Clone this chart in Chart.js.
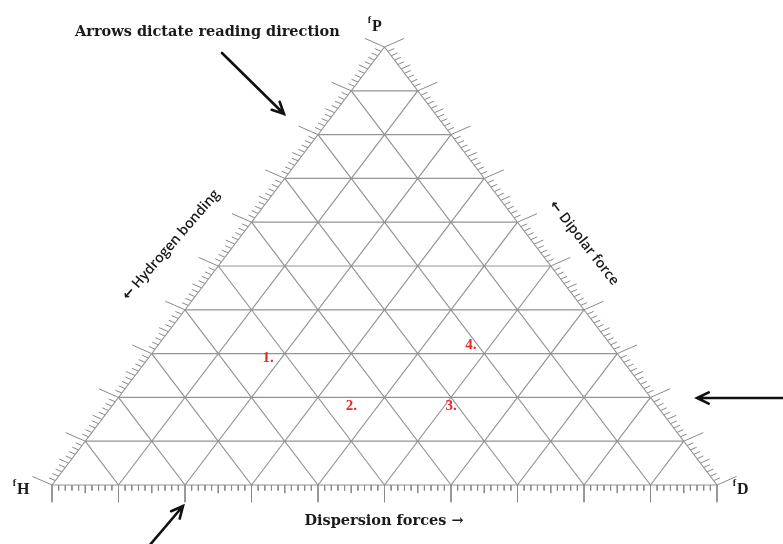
<!DOCTYPE html>
<html>
<head>
<meta charset="utf-8">
<script src="https://cdn.jsdelivr.net/npm/chart.js@4.4.1/dist/chart.umd.min.js"></script>
<style>
  html, body { margin: 0; padding: 0; background: #fff; }
  #teas { display: block; }
</style>
</head>
<body>
<canvas id="teas" width="783" height="544"></canvas>
<script>
// Solvent points (fractional parameters, %)
const solventLabels = ['1.', '2.', '3.', '4.'];
const fD = [18, 36, 51, 47];
const fP = [29, 18, 18, 32];
const fH = [53, 46, 31, 21];

// Grid / scale divisions (%)
const gridLevels = [0, 10, 20, 30, 40, 50, 60, 70, 80, 90];
const tickSteps = Array.from({ length: 101 }, (_, i) => i);

const GRID_COLOR = '#939393';
const TEXT_COLOR = '#1a1a1a';

// ternary -> plot coords (x along base, y = fp)
function toXY(d, p) {
  return { x: d + p / 2, y: p };
}

const BREAK = { x: null, y: null };

function buildGrid() {
  const pts = [];
  gridLevels.forEach(t => {
    // constant fp
    pts.push({ x: t / 2, y: t }, { x: 100 - t / 2, y: t }, BREAK);
    // constant fd
    pts.push(toXY(t, 0), toXY(t, 100 - t), BREAK);
    // constant fh
    pts.push(toXY(100 - t, 0), toXY(0, 100 - t), BREAK);
  });
  return pts;
}

function tickLen(i) {
  if (i % 10 === 0) return 3.4;
  if (i % 5 === 0) return 1.6;
  return 1.1;
}

function buildTicks() {
  const pts = [];
  tickSteps.forEach(i => {
    const L = tickLen(i);
    // base (fp = 0)
    pts.push({ x: i, y: 0 }, { x: i, y: -1.155 * L }, BREAK);
    // left edge (fd = 0)
    const a = toXY(0, i);
    pts.push(a, { x: a.x - 0.866 * L, y: a.y + 0.577 * L }, BREAK);
    // right edge (fh = 0)
    const b = toXY(100 - i, i);
    pts.push(b, { x: b.x + 0.866 * L, y: b.y + 0.577 * L }, BREAK);
  });
  return pts;
}

const solventPoints = solventLabels.map((_, i) => toXY(fD[i], fP[i]));

function arrow(ctx, x1, y1, x2, y2) {
  const ang = Math.atan2(y2 - y1, x2 - x1);
  const h = 13;
  ctx.beginPath();
  ctx.moveTo(x1, y1);
  ctx.lineTo(x2, y2);
  ctx.moveTo(x2 - h * Math.cos(ang - 0.45), y2 - h * Math.sin(ang - 0.45));
  ctx.lineTo(x2, y2);
  ctx.lineTo(x2 - h * Math.cos(ang + 0.45), y2 - h * Math.sin(ang + 0.45));
  ctx.stroke();
}

function vertexLabel(ctx, letter, x, y) {
  ctx.fillStyle = TEXT_COLOR;
  ctx.font = 'bold 10px "Liberation Serif", serif';
  ctx.textAlign = 'right';
  ctx.textBaseline = 'alphabetic';
  ctx.fillText('f', x - 1, y - 8);
  ctx.font = 'bold 16px "Liberation Serif", serif';
  ctx.textAlign = 'left';
  ctx.fillText(letter, x, y);
}

const annotations = {
  id: 'annotations',
  afterDatasetsDraw(chart) {
    const ctx = chart.ctx;
    ctx.save();

    // solvent labels at their points
    const meta = chart.getDatasetMeta(2);
    ctx.fillStyle = '#e8262a';
    ctx.font = 'bold 15px "Liberation Serif", serif';
    ctx.textAlign = 'center';
    ctx.textBaseline = 'middle';
    meta.data.forEach((el, i) => {
      ctx.fillText(solventLabels[i], el.x, el.y);
    });

    ctx.fillStyle = TEXT_COLOR;
    ctx.font = 'bold 14.5px "DejaVu Serif", serif';
    ctx.textAlign = 'left';
    ctx.textBaseline = 'middle';
    ctx.fillText('Arrows dictate reading direction', 75, 32);

    ctx.font = 'bold 14.5px "DejaVu Serif", serif';
    ctx.textAlign = 'center';
    ctx.fillText('Dispersion forces \u2192', 384, 521);

    ctx.font = '600 14px "Open Sans", "DejaVu Sans", sans-serif';
    ctx.save();
    ctx.translate(171, 245);
    ctx.rotate(-49 * Math.PI / 180);
    ctx.fillText('\u2190 Hydrogen bonding', 0, 0);
    ctx.restore();

    ctx.save();
    ctx.translate(584, 243);
    ctx.rotate(52 * Math.PI / 180);
    ctx.fillText('\u2190 Dipolar force', 0, 0);
    ctx.restore();

    vertexLabel(ctx, 'P', 372, 31);
    vertexLabel(ctx, 'H', 17, 494);
    vertexLabel(ctx, 'D', 737, 494);

    ctx.strokeStyle = '#111';
    ctx.lineWidth = 2.6;
    ctx.lineCap = 'round';
    ctx.lineJoin = 'miter';
    arrow(ctx, 222, 53, 284, 114);
    arrow(ctx, 790, 398, 697, 398);
    arrow(ctx, 149, 546, 183, 506);

    ctx.restore();
  }
};

new Chart(document.getElementById('teas'), {
  type: 'scatter',
  data: {
    datasets: [
      {
        label: 'grid',
        data: buildGrid(),
        showLine: true,
        spanGaps: false,
        borderColor: GRID_COLOR,
        borderWidth: 1.2,
        pointRadius: 0,
        clip: false
      },
      {
        label: 'ticks',
        data: buildTicks(),
        showLine: true,
        spanGaps: false,
        borderColor: '#8a8a8a',
        borderWidth: 1,
        pointRadius: 0,
        clip: false
      },
      {
        label: 'solvents',
        data: solventPoints,
        pointRadius: 0,
        showLine: false
      }
    ]
  },
  options: {
    responsive: false,
    animation: false,
    layout: { padding: { left: 52, right: 66, top: 47, bottom: 59 } },
    plugins: {
      legend: { display: false },
      tooltip: { enabled: false }
    },
    scales: {
      x: { type: 'linear', min: 0, max: 100, display: false },
      y: { type: 'linear', min: 0, max: 100, display: false }
    }
  },
  plugins: [annotations]
});
</script>
</body>
</html>
